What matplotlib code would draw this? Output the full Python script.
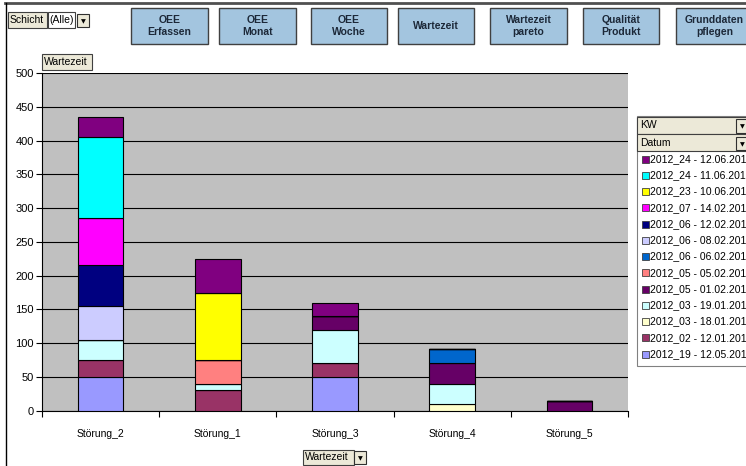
import matplotlib
matplotlib.use('Agg')
import matplotlib.pyplot as plt
from matplotlib.patches import Rectangle
from matplotlib.lines import Line2D

plt.rcParams['font.family'] = ['Liberation Sans', 'DejaVu Sans']

W, H = 746, 466

categories = ['Störung_2', 'Störung_1', 'Störung_3', 'Störung_4', 'Störung_5']

# stacked from the bottom up
series_names = ['2012_19 - 12.05.2012', '2012_02 - 12.01.2012', '2012_03 - 18.01.2012',
                '2012_03 - 19.01.2012', '2012_05 - 01.02.2012', '2012_05 - 05.02.2012',
                '2012_06 - 06.02.2012', '2012_06 - 08.02.2012', '2012_06 - 12.02.2012',
                '2012_07 - 14.02.2012', '2012_23 - 10.06.2012', '2012_24 - 11.06.2012',
                '2012_24 - 12.06.2012']
series_colors = ['#9999FF', '#993366', '#FFFFCC', '#CCFFFF', '#660066', '#FF8080',
                 '#0066CC', '#CCCCFF', '#000080', '#FF00FF', '#FFFF00', '#00FFFF',
                 '#800080']
wartezeit = [
    [50, 0, 50, 0, 0],
    [25, 30, 20, 0, 0],
    [0, 0, 0, 10, 0],
    [30, 10, 50, 30, 0],
    [0, 0, 20, 30, 15],
    [0, 35, 0, 0, 0],
    [0, 0, 0, 22, 0],
    [50, 0, 0, 0, 0],
    [60, 0, 0, 0, 0],
    [70, 0, 0, 0, 0],
    [0, 100, 0, 0, 0],
    [120, 0, 0, 0, 0],
    [30, 50, 20, 0, 0],
]

buttons = [('OEE\nErfassen', 131, 208), ('OEE\nMonat', 219, 296), ('OEE\nWoche', 311, 387),
           ('Wartezeit', 398, 474), ('Wartezeit\npareto', 490, 567),
           ('Qualität\nProdukt', 583, 659), ('Grunddaten\npflegen', 676, 753)]

fig = plt.figure(figsize=(W / 100, H / 100), dpi=100)
fig.patch.set_facecolor('white')


def box(x0, y0, x1, y1, fc, ec='#404040', lw=0.8):
    fig.patches.append(Rectangle((x0 / W, 1 - y1 / H), (x1 - x0) / W, (y1 - y0) / H,
                                 transform=fig.transFigure, fc=fc, ec=ec, lw=lw))


def label(x, y, s, **kw):
    fig.text(x / W, 1 - y / H, s, **kw)


def dropdown(x0, y0, x1, y1):
    box(x0, y0, x1, y1, '#ECE9D8', '#303030', 0.8)
    label((x0 + x1) / 2, (y0 + y1) / 2 + 1, '▼', fontsize=4.5, ha='center', va='center',
          family='DejaVu Sans', color='black')


# chart area
ax = fig.add_axes([42 / W, 1 - 410.7 / H, 586 / W, (410.7 - 73) / H])
ax.set_facecolor('#C0C0C0')
x = list(range(len(categories)))
bottom = [0] * len(categories)
for name, color, vals in zip(series_names, series_colors, wartezeit):
    ax.bar(x, vals, width=0.39, bottom=bottom, color=color, edgecolor='black',
           linewidth=0.8, label=name, zorder=3)
    bottom = [b + v for b, v in zip(bottom, vals)]

ax.set_xlim(-0.5, 4.5)
ax.set_ylim(0, 500)
ax.set_yticks(range(0, 501, 50))
ax.yaxis.grid(True, color='black', linewidth=0.8, zorder=1)
ax.set_axisbelow(True)
ax.set_xticks(x)
ax.set_xticklabels(categories, fontsize=7.5)
ax.set_xticks([i - 0.5 for i in range(len(categories) + 1)], minor=True)
ax.tick_params(axis='x', which='major', length=0, pad=13)
ax.tick_params(axis='x', which='minor', length=4, width=0.8, direction='out')
ax.tick_params(axis='y', length=4, width=0.8, labelsize=8, pad=2)
for s in ['top', 'right']:
    ax.spines[s].set_visible(False)
for s in ['left', 'bottom']:
    ax.spines[s].set_linewidth(0.8)

# sheet borders
fig.add_artist(Line2D([5 / W, 1], [1 - 3 / H, 1 - 3 / H], transform=fig.transFigure,
                      color='#505050', lw=2))
fig.add_artist(Line2D([5.5 / W, 5.5 / W], [0, 1 - 3 / H], transform=fig.transFigure,
                      color='black', lw=1))

# navigation buttons
for text, x0, x1 in buttons:
    box(x0, 8, x1, 44, '#A3C5DF', '#404040', 1.0)
    label((x0 + x1) / 2, 26, text, fontsize=7.5, fontweight='bold', ha='center',
          va='center', color='#1C2838', linespacing=1.2)

# page field
box(8, 12, 47, 28, '#ECE9D8', '#404040', 0.8)
label(9.5, 20, 'Schicht', fontsize=7.5, va='center')
box(48, 12, 75, 28, 'white', '#404040', 0.8)
label(49.5, 20, '(Alle)', fontsize=7.5, va='center')
dropdown(77, 14, 89, 27)

# data field
box(42, 54, 92, 70, '#ECE9D8', '#404040', 0.8)
label(44, 62, 'Wartezeit', fontsize=7.5, va='center')

# category field
box(303, 450, 354, 465, '#ECE9D8', '#404040', 0.8)
label(305, 457.5, 'Wartezeit', fontsize=7.5, va='center')
dropdown(354, 451, 366, 464)

# legend with series fields, running past the right edge of the sheet
box(637, 116, 760, 366, 'white', '#808080', 0.8)
box(637, 117, 760, 134, '#ECE9D8', '#404040', 0.8)
label(640, 125.5, 'KW', fontsize=7.5, va='center')
dropdown(736, 119, 748, 133)
box(637, 134, 760, 151, '#ECE9D8', '#404040', 0.8)
label(640, 142.5, 'Datum', fontsize=7.5, va='center')
dropdown(736, 137, 748, 150)
for i, (name, color) in enumerate(zip(series_names[::-1], series_colors[::-1])):
    yc = 159 + i * 16.25
    box(642, yc - 3.5, 649, yc + 3.5, color, '#404040', 0.6)
    label(650, yc, name, fontsize=7.5, va='center')

fig.savefig('out.png', dpi=100)
